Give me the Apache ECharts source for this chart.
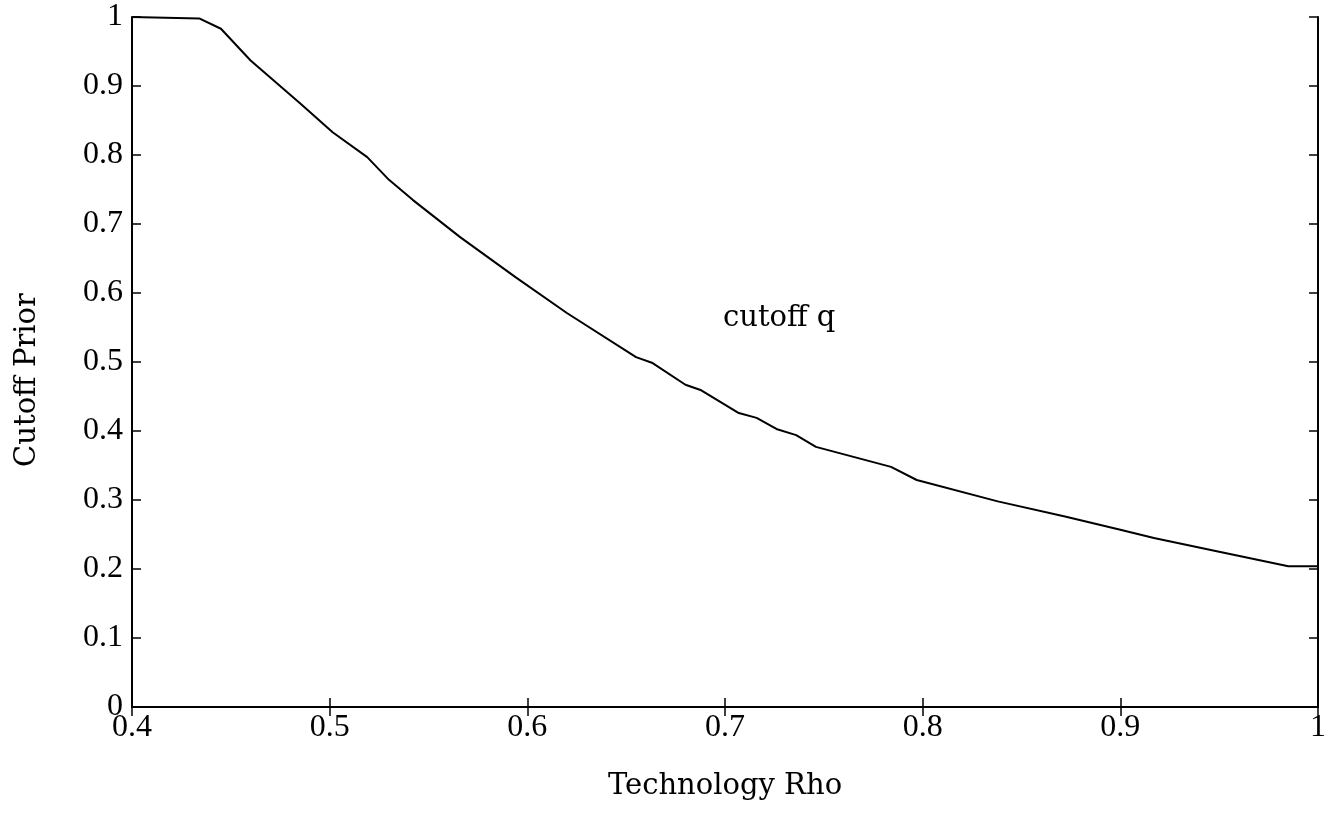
<!DOCTYPE html>
<html>
<head>
<meta charset="utf-8">
<script src="https://cdn.jsdelivr.net/npm/echarts@6/dist/echarts.min.js"></script>
<style>
  html, body { margin: 0; padding: 0; background: #fff; }
  #chart { width: 1335px; height: 814px; }
</style>
</head>
<body>
<div id="chart"></div>
<script>
// technology rho (x) and cutoff prior (y)
let rhoValues = [0.4, 0.434, 0.445, 0.46, 0.485, 0.5015, 0.519, 0.53, 0.542, 0.566, 0.594, 0.62,
  0.655, 0.663, 0.68, 0.688, 0.707, 0.716, 0.726, 0.736, 0.746, 0.784, 0.797, 0.838, 0.872,
  0.9, 0.917, 0.95, 0.985, 1.0];
let cutoffValues = [1, 0.998, 0.983, 0.937, 0.875, 0.833, 0.797, 0.764, 0.735, 0.681, 0.623, 0.571,
  0.507, 0.499, 0.467, 0.459, 0.426, 0.419, 0.403, 0.394, 0.377, 0.348, 0.329, 0.298, 0.276,
  0.257, 0.245, 0.225, 0.204, 0.204];
let xTicks = [0.4, 0.5, 0.6, 0.7, 0.8, 0.9, 1];
let yTicks = [0, 0.1, 0.2, 0.3, 0.4, 0.5, 0.6, 0.7, 0.8, 0.9, 1];

let seriesData = [];
for (let i = 0; i < rhoValues.length; i++) {
  seriesData.push([rhoValues[i], cutoffValues[i]]);
}

let chart = echarts.init(document.getElementById('chart'));
let tickFont = {
  color: '#000',
  fontFamily: 'Liberation Serif',
  fontSize: 32
};
let boxLine = { show: true, lineStyle: { color: '#000', width: 2 } };
let boxTick = { show: true, inside: true, length: 9, lineStyle: { color: '#000', width: 1.5 } };

let option = {
  animation: false,
  backgroundColor: '#fff',
  grid: {
    left: 132,
    right: 17,
    top: 17,
    bottom: 107,
    containLabel: false,
    outerBoundsMode: 'none'
  },
  xAxis: [{
    type: 'value',
    min: 0.4,
    max: 1,
    interval: 0.1,
    position: 'bottom',
    name: 'Technology Rho',
    nameLocation: 'middle',
    nameGap: 65,
    nameTextStyle: { color: '#000', fontFamily: 'DejaVu Serif', fontSize: 29 },
    axisLine: boxLine,
    axisTick: boxTick,
    splitLine: { show: false },
    axisLabel: Object.assign({
      margin: 5,
      formatter: function (v) {
        let r = Math.round(v * 10) / 10;
        return xTicks.indexOf(r) >= 0 ? String(r) : '';
      }
    }, tickFont)
  }, {
    type: 'value',
    min: 0.4,
    max: 1,
    interval: 0.1,
    position: 'top',
    axisLine: boxLine,
    axisTick: boxTick,
    splitLine: { show: false },
    axisLabel: { show: false }
  }],
  yAxis: [{
    type: 'value',
    min: 0,
    max: 1,
    interval: 0.1,
    position: 'left',
    name: 'Cutoff Prior',
    nameLocation: 'middle',
    nameGap: 90,
    nameTextStyle: { color: '#000', fontFamily: 'DejaVu Serif', fontSize: 29, padding: [0, 36, 0, 0] },
    axisLine: boxLine,
    axisTick: boxTick,
    splitLine: { show: false },
    axisLabel: Object.assign({
      margin: 9,
      formatter: function (v) {
        let r = Math.round(v * 10) / 10;
        return yTicks.indexOf(r) >= 0 ? String(r) : '';
      }
    }, tickFont)
  }, {
    type: 'value',
    min: 0,
    max: 1,
    interval: 0.1,
    position: 'right',
    axisLine: boxLine,
    axisTick: boxTick,
    splitLine: { show: false },
    axisLabel: { show: false }
  }],
  graphic: [{
    type: 'text',
    left: 723,
    top: 304,
    style: {
      text: 'cutoff q',
      fill: '#000',
      font: '29px "DejaVu Serif"'
    }
  }],
  series: [{
    name: 'cutoff q',
    type: 'line',
    xAxisIndex: 0,
    yAxisIndex: 0,
    data: seriesData,
    showSymbol: false,
    lineStyle: { color: '#000', width: 2 }
  }]
};
chart.setOption(option);
</script>
</body>
</html>
